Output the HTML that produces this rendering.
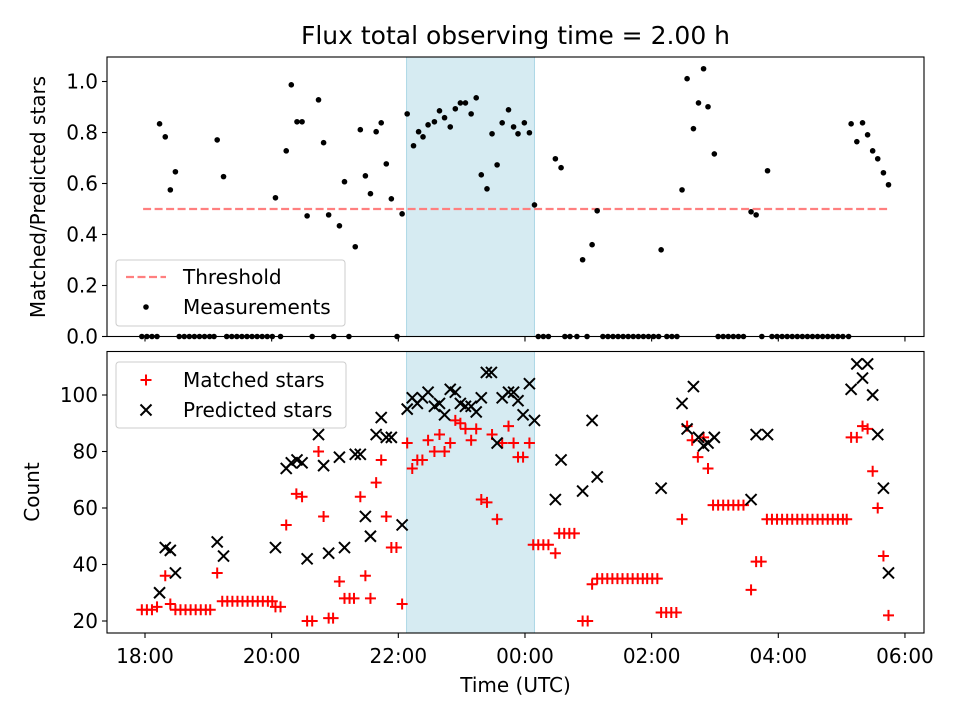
<!DOCTYPE html>
<html><head><meta charset="utf-8"><style>
html,body{margin:0;padding:0;background:#fff;}
svg{display:block;font-family:"DejaVu Sans","Liberation Sans",sans-serif;}
</style></head><body>
<svg id="chart" width="960" height="720" viewBox="0 0 960 720" xmlns="http://www.w3.org/2000/svg">
<rect width="960" height="720" fill="#fff"/>
<text x="515.5" y="44" font-size="25" text-anchor="middle">Flux total observing time = 2.00 h</text>
<g id="topAxes"></g><g id="botAxes"></g>
</svg>
<script>
// hours since 18:00
const shadeRange = [4.13, 6.15];
const threshold = 0.5;
const thresholdRange = [-0.03, 11.74];
const ratioTimes = [0.23,0.32,0.40,0.48,1.14,1.24,2.06,2.23,2.31,2.40,2.48,2.56,2.74,2.82,2.90,3.07,3.15,3.32,3.40,3.48,3.56,3.65,3.73,3.81,3.89,4.06,4.14,4.24,4.32,4.39,4.47,4.57,4.65,4.73,4.82,4.90,4.98,5.06,5.15,5.23,5.31,5.40,5.48,5.56,5.64,5.74,5.82,5.89,5.99,6.07,6.15,6.48,6.57,6.91,7.06,7.14,8.15,8.48,8.56,8.66,8.74,8.82,8.89,8.99,9.57,9.65,9.83,11.15,11.24,11.33,11.41,11.49,11.57,11.66,11.74];
const ratioValues = [0.834,0.783,0.575,0.646,0.771,0.627,0.544,0.728,0.987,0.842,0.842,0.473,0.928,0.760,0.477,0.434,0.607,0.352,0.811,0.630,0.560,0.803,0.838,0.677,0.540,0.481,0.873,0.748,0.803,0.783,0.830,0.842,0.885,0.858,0.822,0.893,0.916,0.916,0.873,0.936,0.634,0.579,0.795,0.673,0.838,0.889,0.822,0.795,0.838,0.799,0.516,0.697,0.662,0.301,0.360,0.493,0.340,0.575,1.011,0.815,0.916,1.050,0.901,0.716,0.489,0.477,0.650,0.834,0.764,0.838,0.791,0.728,0.697,0.642,0.595];
const zeroTimes = [-0.05,0.03,0.11,0.19,0.54,0.62,0.70,0.78,0.86,0.94,1.02,1.09,1.29,1.37,1.45,1.53,1.61,1.69,1.77,1.85,1.93,2.01,2.14,2.64,2.98,3.22,3.98,6.21,6.29,6.37,6.63,6.71,6.82,6.98,7.23,7.31,7.39,7.47,7.55,7.63,7.71,7.79,7.87,7.95,8.03,8.11,8.24,8.32,8.40,9.05,9.13,9.21,9.29,9.37,9.45,9.74,9.90,9.98,10.06,10.14,10.22,10.30,10.38,10.46,10.54,10.62,10.70,10.78,10.86,10.94,11.02,11.11];
const matchedTimes = [-0.05,0.03,0.11,0.19,0.32,0.40,0.48,0.56,0.64,0.72,0.80,0.88,0.96,1.03,1.14,1.22,1.30,1.38,1.46,1.54,1.62,1.70,1.78,1.86,1.94,2.01,2.06,2.14,2.23,2.39,2.48,2.56,2.64,2.74,2.82,2.90,2.97,3.07,3.15,3.23,3.30,3.40,3.48,3.56,3.65,3.73,3.81,3.89,3.97,4.06,4.14,4.22,4.30,4.38,4.47,4.57,4.65,4.73,4.82,4.90,4.98,5.06,5.15,5.23,5.31,5.40,5.48,5.56,5.64,5.74,5.82,5.89,5.97,6.07,6.13,6.21,6.29,6.37,6.48,6.54,6.62,6.70,6.78,6.91,6.99,7.06,7.14,7.22,7.30,7.38,7.46,7.54,7.62,7.70,7.78,7.86,7.93,8.01,8.09,8.15,8.23,8.31,8.39,8.48,8.56,8.64,8.73,8.82,8.89,8.97,9.05,9.13,9.21,9.29,9.37,9.45,9.57,9.65,9.73,9.82,9.90,9.98,10.06,10.14,10.22,10.30,10.38,10.46,10.54,10.62,10.70,10.78,10.86,10.94,11.02,11.08,11.15,11.24,11.33,11.41,11.49,11.57,11.66,11.74];
const matchedValues = [24,24,24,25,36,26,24,24,24,24,24,24,24,24,37,27,27,27,27,27,27,27,27,27,27,27,25,25,54,65,64,20,20,80,57,21,21,34,28,28,28,64,36,28,69,77,57,46,46,26,83,74,77,77,84,80,86,80,83,91,90,88,84,88,63,62,86,56,83,89,83,78,78,83,47,47,47,47,44,51,51,51,51,20,20,33,35,35,35,35,35,35,35,35,35,35,35,35,35,23,23,23,23,56,89,84,78,85,74,61,61,61,61,61,61,61,31,41,41,56,56,56,56,56,56,56,56,56,56,56,56,56,56,56,56,56,85,85,89,88,73,60,43,22];
const predictedTimes = [0.23,0.32,0.40,0.48,1.14,1.24,2.06,2.23,2.31,2.40,2.48,2.56,2.74,2.82,2.90,3.07,3.15,3.32,3.40,3.48,3.56,3.65,3.73,3.81,3.89,4.06,4.14,4.22,4.30,4.38,4.47,4.57,4.65,4.73,4.82,4.90,4.98,5.06,5.15,5.23,5.31,5.39,5.47,5.56,5.64,5.74,5.82,5.89,5.97,6.07,6.15,6.48,6.57,6.91,7.06,7.14,8.15,8.48,8.56,8.66,8.74,8.82,8.89,8.99,9.57,9.65,9.83,11.15,11.24,11.33,11.41,11.49,11.57,11.66,11.74];
const predictedValues = [30,46,45,37,48,43,46,74,76,77,76,42,86,75,44,78,46,79,79,57,50,86,92,85,85,54,95,99,97,99,101,96,97,93,102,101,97,96,96,94,99,108,108,83,99,101,101,98,93,104,91,63,77,66,91,71,67,97,88,103,85,82,83,85,63,86,86,102,111,106,111,100,86,67,37];
const xTickHours = [0,2,4,6,8,10,12];
const xTickLabels = ["18:00","20:00","22:00","00:00","02:00","04:00","06:00"];
const topTicks = [0.0,0.2,0.4,0.6,0.8,1.0];
const botTicks = [20,40,60,80,100];

const L=107,R=924;
const FS=20;
const xs = h => 145 + h*63.33;
const yTop = v => 336.5 - v*255;
const yBot = v => 621 - (v-20)*2.825;
const NS="http://www.w3.org/2000/svg";
function mk(parent,tag,attrs){const e=document.createElementNS(NS,tag);for(const k in attrs)e.setAttribute(k,attrs[k]);parent.appendChild(e);return e;}

function axes(g,y0,y1,yticks,yf,fmt,showX,nm){
  const s=mk(g,'rect',{x:xs(shadeRange[0]),y:y0,width:xs(shadeRange[1])-xs(shadeRange[0]),height:y1-y0,fill:'#add8e6','fill-opacity':0.5,stroke:'#add8e6'});
  
  
  xTickHours.forEach((h,i)=>{
    const x=xs(h);
    if(x>R)return;
    const t=mk(g,'line',{x1:x,x2:x,y1:y1,y2:y1+5,stroke:'#000','stroke-width':1.1});
    
    
    if(showX){
      const tl=mk(g,'text',{x:x,y:y1+30,'font-size':FS,'text-anchor':'middle'});tl.textContent=xTickLabels[i];
      
      
    }
  });
  yticks.forEach(v=>{
    const y=yf(v);
    const t=mk(g,'line',{x1:L-5,x2:L,y1:y,y2:y,stroke:'#000','stroke-width':1.1});
    
    
    const tl=mk(g,'text',{x:L-9,y:y+7,'font-size':FS,'text-anchor':'end'});tl.textContent=fmt(v);
    
    
  });
}
function frame(g,y0,y1,nm){
  const f=mk(g,'rect',{x:L,y:y0,width:R-L,height:y1-y0,fill:'none',stroke:'#000','stroke-width':1.1});
  
  
}
function plus(g,x,y,c,r){return mk(g,'path',{d:`M${x-r},${y}H${x+r}M${x},${y-r}V${y+r}`,stroke:c,'stroke-width':2,fill:'none'});}
function cross(g,x,y,c,r){return mk(g,'path',{d:`M${x-r},${y-r}L${x+r},${y+r}M${x-r},${y+r}L${x+r},${y-r}`,stroke:c,'stroke-width':2,fill:'none'});}

// TOP
const topG=document.getElementById('topAxes');
axes(topG,57,336.5,topTicks,yTop,v=>v.toFixed(1),false,'top');
const th=mk(topG,'line',{x1:xs(thresholdRange[0]),x2:xs(thresholdRange[1]),y1:yTop(threshold),y2:yTop(threshold),stroke:'#ff7f7f','stroke-width':2.2,'stroke-dasharray':'8,3.5'});


const dots=mk(topG,'g',{});


for(let i=0;i<Math.min(ratioTimes.length,ratioValues.length);i++){
  const c=mk(dots,'circle',{cx:xs(ratioTimes[i]),cy:yTop(ratioValues[i]),r:2.8,fill:'#000'});
  
  
}
zeroTimes.forEach(t=>{
  const c=mk(dots,'circle',{cx:xs(t),cy:yTop(0),r:2.8,fill:'#000'});
  
  
});
frame(topG,57,336.5,'top');

// BOTTOM
const botG=document.getElementById('botAxes');
axes(botG,351.5,633,botTicks,yBot,v=>String(v),true,'bottom');
const mg=mk(botG,'g',{});


for(let i=0;i<Math.min(matchedTimes.length,matchedValues.length);i++){
  const p=plus(mg,xs(matchedTimes[i]),yBot(matchedValues[i]),'#ff0000',5.5);
  
  
}
const pg=mk(botG,'g',{});


for(let i=0;i<Math.min(predictedTimes.length,predictedValues.length);i++){
  const p=cross(pg,xs(predictedTimes[i]),yBot(predictedValues[i]),'#000',5.5);
  
  
}
frame(botG,351.5,633,'bottom');
</script>
<svg style="position:absolute;left:0;top:0" width="960" height="720" viewBox="0 0 960 720" xmlns="http://www.w3.org/2000/svg" font-family="DejaVu Sans, Liberation Sans, sans-serif">
<g>
<rect x="116" y="260" width="229" height="66" rx="3" fill="#fff" fill-opacity="0.85" stroke="#ccc"/>
<line x1="126" y1="277" x2="166" y2="277" stroke="#ff7f7f" stroke-width="2.2" stroke-dasharray="8,3.5"/>
<text x="183" y="284" font-size="20">Threshold</text>
<circle cx="146" cy="307" r="2.8" fill="#000"/>
<text x="183" y="314" font-size="20">Measurements</text>
</g>
<g>
<rect x="116" y="362" width="230" height="66" rx="3" fill="#fff" fill-opacity="0.85" stroke="#ccc"/>
<path d="M140.5,380H151.5M146,374.5V385.5" stroke="#f00" stroke-width="2"/>
<text x="183" y="387" font-size="20">Matched stars</text>
<path d="M140.5,404.5L151.5,415.5M140.5,415.5L151.5,404.5" stroke="#000" stroke-width="2"/>
<text x="183" y="417" font-size="20">Predicted stars</text>
</g>
<text transform="translate(45,197) rotate(-90)" font-size="20" text-anchor="middle">Matched/Predicted stars</text>
<text transform="translate(39,492) rotate(-90)" font-size="20" text-anchor="middle">Count</text>
<text x="515.5" y="692" font-size="20" text-anchor="middle">Time (UTC)</text>
</svg>
</body></html>
